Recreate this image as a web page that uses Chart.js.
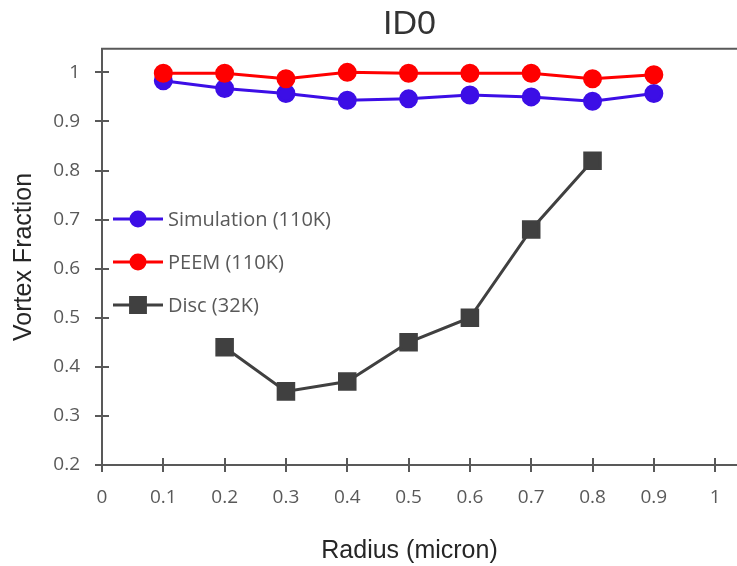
<!DOCTYPE html>
<html>
<head>
<meta charset="utf-8">
<title>ID0</title>
<script src="https://cdn.jsdelivr.net/npm/chart.js@4.4.1/dist/chart.umd.min.js"></script>
<style>
  html, body { margin: 0; padding: 0; background: #fff; }
</style>
</head>
<body>
<canvas id="id0-chart" width="737" height="566"></canvas>
<script>
// radius (micron) for each series
const radiusSim = [0.1, 0.2, 0.3, 0.4, 0.5, 0.6, 0.7, 0.8, 0.9];
const radiusDisc = [0.2, 0.3, 0.4, 0.5, 0.6, 0.7, 0.8];

// vortex fraction
const simulation110K = [0.983, 0.967, 0.957, 0.943, 0.946, 0.954, 0.950, 0.941, 0.957];
const peem110K = [0.998, 0.998, 0.987, 1.0, 0.998, 0.998, 0.998, 0.987, 0.995];
const disc32K = [0.44, 0.35, 0.37, 0.45, 0.50, 0.68, 0.82];

const seriesNames = ["Simulation (110K)", "PEEM (110K)", "Disc (32K)"];

// axis labels
const xTickLabels = ["0", "0.1", "0.2", "0.3", "0.4", "0.5", "0.6", "0.7", "0.8", "0.9", "1"];
const yTickLabels = ["0.2", "0.3", "0.4", "0.5", "0.6", "0.7", "0.8", "0.9", "1"];

const axisColor = "#595959";
const tickFont = { family: "'Open Sans'", size: 19 };
const titleFont = { family: "'Liberation Sans'", size: 25 };

function points(xs, ys) {
  return xs.map((x, i) => ({ x: x, y: ys[i] }));
}

// extra axis bits: ticks crossing the axis, top frame, axis running to the edge
const axisExtras = {
  id: "axisExtras",
  beforeDatasetsDraw(chart) {
    const ctx = chart.ctx;
    const area = chart.chartArea;
    const xs = chart.scales.x;
    const ys = chart.scales.y;
    ctx.save();
    ctx.strokeStyle = axisColor;
    ctx.lineWidth = 2;
    ctx.beginPath();
    xs.ticks.forEach(t => {
      const px = Math.round(xs.getPixelForValue(t.value));
      ctx.moveTo(px, area.bottom);
      ctx.lineTo(px, area.bottom - 7);
    });
    ys.ticks.forEach(t => {
      const py = Math.round(ys.getPixelForValue(t.value));
      ctx.moveTo(area.left, py);
      ctx.lineTo(area.left + 7, py);
    });
    // top frame and x axis continue to the right edge
    ctx.moveTo(area.left - 1, area.top);
    ctx.lineTo(chart.width, area.top);
    ctx.moveTo(area.right, area.bottom);
    ctx.lineTo(chart.width, area.bottom);
    ctx.stroke();
    ctx.restore();
  }
};

// legend drawn inside the plot, left side
const insideLegend = {
  id: "insideLegend",
  afterDatasetsDraw(chart) {
    const ctx = chart.ctx;
    const left = chart.chartArea.left + 11;
    ctx.save();
    chart.data.datasets.forEach((ds, i) => {
      const y = 219 + i * 43;
      ctx.strokeStyle = ds.borderColor;
      ctx.lineWidth = 3;
      ctx.beginPath();
      ctx.moveTo(left, y);
      ctx.lineTo(left + 50, y);
      ctx.stroke();
      ctx.fillStyle = ds.pointBackgroundColor;
      ctx.strokeStyle = ds.pointBorderColor;
      Chart.helpers.drawPoint(ctx, {
        pointStyle: ds.pointStyle,
        radius: ds.pointStyle === "rect" ? 10.5 : 7,
        rotation: 0,
        borderWidth: 1
      }, left + 25, y);
      ctx.fillStyle = axisColor;
      ctx.font = "20px 'Open Sans'";
      ctx.textBaseline = "middle";
      ctx.textAlign = "left";
      ctx.fillText(ds.label, left + 55, y + 1);
    });
    ctx.restore();
  }
};

new Chart(document.getElementById("id0-chart"), {
  type: "line",
  data: {
    datasets: [{
      label: seriesNames[0],
      data: points(radiusSim, simulation110K),
      borderColor: "#3C0EE6",
      pointBackgroundColor: "#3C0EE6",
      pointBorderColor: "#3C0EE6",
      pointStyle: "circle",
      pointRadius: 8,
      borderWidth: 3,
      order: 1
    }, {
      label: seriesNames[1],
      data: points(radiusSim, peem110K),
      borderColor: "#FF0000",
      pointBackgroundColor: "#FF0000",
      pointBorderColor: "#FF0000",
      pointStyle: "circle",
      pointRadius: 8,
      borderWidth: 3,
      order: 0
    }, {
      label: seriesNames[2],
      data: points(radiusDisc, disc32K),
      borderColor: "#404040",
      pointBackgroundColor: "#404040",
      pointBorderColor: "#404040",
      pointStyle: "rect",
      pointRadius: 11,
      borderWidth: 3,
      order: 2
    }]
  },
  options: {
    responsive: false,
    animation: false,
    layout: { padding: { left: 0, right: 20, top: 0, bottom: 0 } },
    plugins: {
      legend: { display: false },
      tooltip: { enabled: false },
      title: {
        display: true,
        text: "ID0",
        fullSize: false,
        color: "#333333",
        font: { family: "'Liberation Sans'", size: 34, weight: "normal" },
        padding: { top: 4, bottom: 4 }
      }
    },
    scales: {
      x: {
        type: "linear",
        min: 0,
        max: 1.003,
        afterFit(scale) { scale.height = 101; },
        ticks: {
          stepSize: 0.1,
          includeBounds: false,
          padding: 14,
          color: axisColor,
          font: tickFont,
          maxRotation: 0,
          callback: (v) => xTickLabels[Math.round(v * 10)]
        },
        grid: { drawOnChartArea: false, tickLength: 7, color: axisColor, lineWidth: 2 },
        border: { color: axisColor, width: 2 },
        title: {
          display: true,
          text: "Radius (micron)",
          color: "#262626",
          font: titleFont,
          padding: { top: 0, bottom: 0 }
        }
      },
      y: {
        min: 0.2,
        max: 1.048,
        afterFit(scale) { scale.width = 102; },
        ticks: {
          stepSize: 0.1,
          includeBounds: false,
          padding: 15,
          color: axisColor,
          font: tickFont,
          callback: (v) => yTickLabels[Math.round(v * 10) - 2]
        },
        grid: { drawOnChartArea: false, tickLength: 7, color: axisColor, lineWidth: 2 },
        border: { color: axisColor, width: 2 },
        title: {
          display: true,
          text: "Vortex Fraction",
          color: "#262626",
          font: titleFont,
          padding: { top: 9, bottom: 0 }
        }
      }
    }
  },
  plugins: [axisExtras, insideLegend]
});
</script>
</body>
</html>
